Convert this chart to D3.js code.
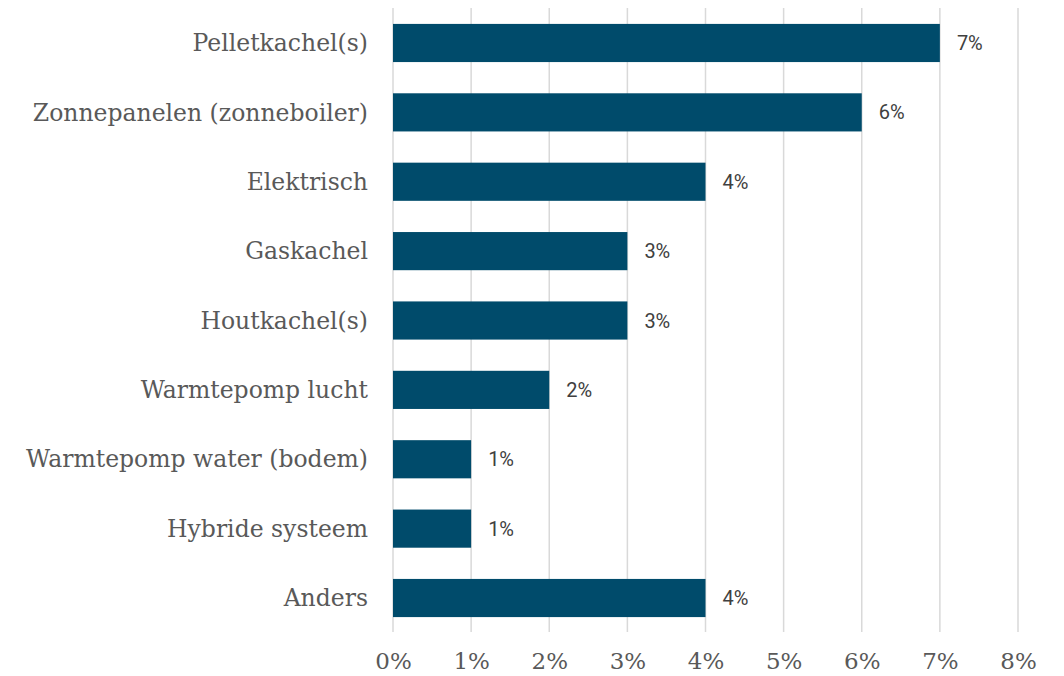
<!DOCTYPE html>
<html>
<head>
<meta charset="utf-8">
<script src="https://cdn.jsdelivr.net/npm/d3@7"></script>
<style>
  body { margin: 0; background: #fff; }
</style>
</head>
<body>
<div id="chart"></div>
<script>
var categories = ["Pelletkachel(s)", "Zonnepanelen (zonneboiler)", "Elektrisch", "Gaskachel",
  "Houtkachel(s)", "Warmtepomp lucht", "Warmtepomp water (bodem)", "Hybride systeem", "Anders"];
var values = [7, 6, 4, 3, 3, 2, 1, 1, 4];
var tickValues = [0, 1, 2, 3, 4, 5, 6, 7, 8];

var width = 1064, height = 676;

var svg = d3.select("#chart")
  .append("svg")
  .attr("width", width)
  .attr("height", height);

var x = d3.scaleLinear().domain([0, 8]).range([393, 1018]);
var y = d3.scaleBand().domain(categories).range([8.3, 632.7]).paddingInner(0.45).paddingOuter(0.225);

// gridlines
svg.append("g")
  .selectAll("line")
  .data(tickValues)
  .enter().append("line")
  .attr("x1", function(d) { return x(d); })
  .attr("x2", function(d) { return x(d); })
  .attr("y1", 8)
  .attr("y2", 632)
  .style("stroke", "#d9d9d9")
  .style("stroke-width", 1.5);

// bars
svg.append("g")
  .selectAll("rect")
  .data(values)
  .enter().append("rect")
  .attr("x", x(0))
  .attr("y", function(d, i) { return y(categories[i]); })
  .attr("width", function(d) { return x(d) - x(0); })
  .attr("height", y.bandwidth())
  .style("fill", "#004b6b");

// value labels
svg.append("g")
  .selectAll("text")
  .data(values)
  .enter().append("text")
  .attr("x", function(d) { return x(d) + 17; })
  .attr("y", function(d, i) { return y(categories[i]) + y.bandwidth() / 2; })
  .attr("dy", "0.35em")
  .style("font-family", "Roboto, sans-serif")
  .style("font-size", "20px")
  .style("fill", "#404040")
  .text(function(d) { return d + "%"; });

// category labels
svg.append("g")
  .selectAll("text")
  .data(categories)
  .enter().append("text")
  .attr("x", 368)
  .attr("y", function(d) { return y(d) + y.bandwidth() / 2; })
  .attr("dy", "0.35em")
  .attr("text-anchor", "end")
  .style("font-family", "'DejaVu Serif', serif")
  .style("font-size", "23.5px")
  .style("fill", "#595959")
  .text(function(d) { return d; });

// x axis labels
var xAxis = d3.axisBottom(x)
  .tickValues(tickValues)
  .tickSize(0)
  .tickPadding(0)
  .tickFormat(function(d) { return d + "%"; });

var gx = svg.append("g")
  .attr("transform", "translate(0,653)")
  .call(xAxis);
gx.select(".domain").remove();
gx.selectAll("text")
  .style("font-family", "'DejaVu Serif', serif")
  .style("font-size", "23px")
  .style("fill", "#595959");
</script>
</body>
</html>
